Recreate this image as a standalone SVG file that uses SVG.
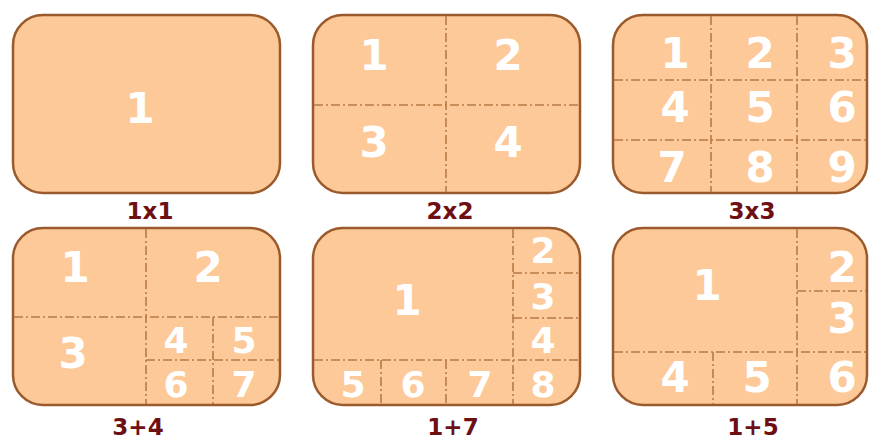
<svg xmlns="http://www.w3.org/2000/svg" width="869" height="442" viewBox="0 0 869 442">
<style>
.panel{fill:#fdc998;stroke:#9a5a2c;stroke-width:2.5}
.div{stroke:#b87a44;stroke-width:1.6;stroke-dasharray:9 3 2 3;fill:none}
.n{font-family:"DejaVu Sans",Verdana,sans-serif;font-weight:bold;font-size:42px;fill:#ffffff;text-anchor:middle}
.s{font-size:36px}
.cap{font-family:"DejaVu Sans",Verdana,sans-serif;font-weight:bold;font-size:23px;fill:#6e0f14;text-anchor:middle}
</style>
<rect width="869" height="442" fill="#ffffff"/>
<g id="p1x1">
<rect class="panel" x="13" y="15" width="267" height="178" rx="30"/>
<text class="n" x="140" y="123">1</text>
<text class="cap" x="150" y="219">1x1</text>
</g>
<g id="p2x2">
<rect class="panel" x="313" y="15" width="267" height="178" rx="30"/>
<text class="n" x="374" y="70">1</text>
<text class="n" x="508" y="70">2</text>
<text class="n" x="374" y="157">3</text>
<text class="n" x="508" y="157">4</text>
<text class="cap" x="450" y="219">2x2</text>
</g>
<g id="p3x3">
<rect class="panel" x="613" y="15" width="254" height="178" rx="30"/>
<text class="n" x="675" y="68">1</text>
<text class="n" x="760" y="68">2</text>
<text class="n" x="842" y="68">3</text>
<text class="n" x="675" y="122">4</text>
<text class="n" x="760" y="122">5</text>
<text class="n" x="842" y="122">6</text>
<text class="n" x="672" y="182">7</text>
<text class="n" x="760" y="182">8</text>
<text class="n" x="842" y="182">9</text>
<text class="cap" x="752" y="219">3x3</text>
</g>
<g id="p3p4">
<rect class="panel" x="13" y="228" width="267" height="177" rx="30"/>
<text class="n" x="75" y="282">1</text>
<text class="n" x="208" y="282">2</text>
<text class="n" x="73" y="368">3</text>
<text class="n s" x="176" y="353">4</text>
<text class="n s" x="244" y="353">5</text>
<text class="n s" x="176" y="397">6</text>
<text class="n s" x="244" y="397">7</text>
<text class="cap" x="138" y="435">3+4</text>
</g>
<g id="p1p7">
<rect class="panel" x="313" y="228" width="267" height="177" rx="30"/>
<text class="n" x="407" y="315">1</text>
<text class="n s" x="543" y="263">2</text>
<text class="n s" x="543" y="309">3</text>
<text class="n s" x="543" y="353">4</text>
<text class="n s" x="353" y="397">5</text>
<text class="n s" x="413" y="397">6</text>
<text class="n s" x="480" y="397">7</text>
<text class="n s" x="543" y="397">8</text>
<text class="cap" x="453" y="435">1+7</text>
</g>
<g id="p1p5">
<rect class="panel" x="613" y="228" width="254" height="177" rx="30"/>
<text class="n" x="707" y="300">1</text>
<text class="n" x="842" y="282">2</text>
<text class="n" x="842" y="333">3</text>
<text class="n" x="675" y="392">4</text>
<text class="n" x="757" y="392">5</text>
<text class="n" x="842" y="392">6</text>
<text class="cap" x="753" y="435">1+5</text>
</g>
<g id="connectors">
<path class="div" d="M446 16V192M314 105H579"/>
<path class="div" d="M711 16V192M797 16V192M614 80H866M614 140H866"/>
<path class="div" d="M146 229V404M14 317H279M213 317V404M146 360H279"/>
<path class="div" d="M513 229V404M513 273H579M513 318H579M314 360H579M381 360V404M446 360V404"/>
<path class="div" d="M797 229V404M797 291H866M614 352H866M713 352V404"/>
</g>
</svg>
